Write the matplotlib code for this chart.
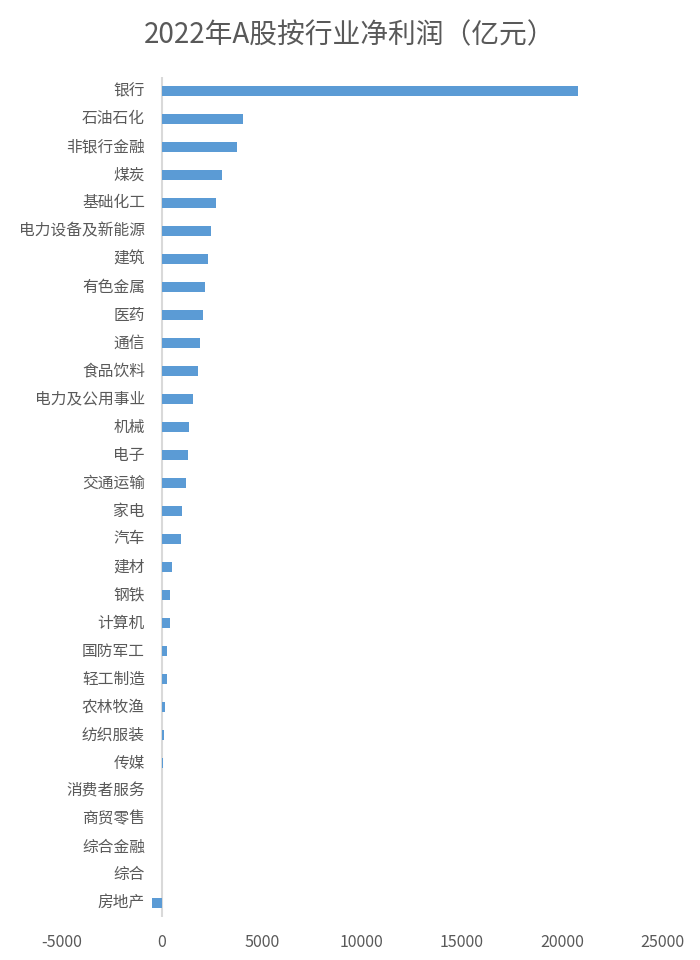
import matplotlib
matplotlib.use("Agg")
from matplotlib import pyplot as plt

plt.rcParams['font.family'] = ['Noto Sans CJK SC', 'DejaVu Sans']

# industries, top to bottom as shown
industries = ['银行', '石油石化', '非银行金融', '煤炭', '基础化工', '电力设备及新能源',
              '建筑', '有色金属', '医药', '通信', '食品饮料', '电力及公用事业',
              '机械', '电子', '交通运输', '家电', '汽车', '建材', '钢铁', '计算机',
              '国防军工', '轻工制造', '农林牧渔', '纺织服装', '传媒', '消费者服务',
              '商贸零售', '综合金融', '综合', '房地产']
# net profit, 100 million yuan
profit = [20800, 4070, 3740, 3010, 2680, 2430,
          2310, 2165, 2050, 1900, 1800, 1570,
          1350, 1285, 1200, 985, 935, 490, 420, 390,
          275, 275, 160, 125, 60, 12,
          15, 10, 3, -505]
xticks = [-5000, 0, 5000, 10000, 15000, 20000, 25000]

grey = '#595959'

fig = plt.figure(figsize=(7, 9.6), dpi=100)
ax = fig.add_axes([62 / 700, 1 - 917 / 960, 600 / 700, 840 / 960])

ypos = list(range(len(industries)))
ax.barh(ypos, profit, height=0.37, color='#5B9BD5', zorder=2)
ax.set_ylim(len(industries) - 0.5, -0.5)
ax.set_xlim(-5000, 25000)
ax.set_xticks(xticks)
ax.set_xticklabels([str(v) for v in xticks], fontsize=11.5, color=grey)
ax.set_yticks([])

for s in ax.spines.values():
    s.set_visible(False)
ax.tick_params(axis='x', length=0, pad=12)
ax.axvline(0, color='#D9D9D9', lw=1.5, zorder=1)

# category labels sit left of the zero line
for y, name in zip(ypos, industries):
    ax.text(-850, y, name, ha='right', va='center', fontsize=11.3, color=grey)

fig.text(0.5, 1 - 35 / 960, '2022年A股按行业净利润（亿元）', ha='center', va='center',
         fontsize=20, color=grey)

fig.savefig('out.png', dpi=100, facecolor='white')
